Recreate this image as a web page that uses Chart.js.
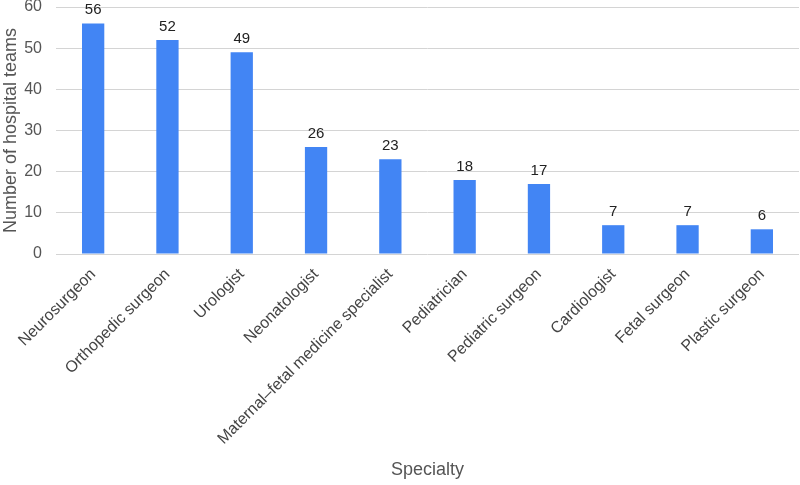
<!DOCTYPE html>
<html>
<head>
<meta charset="utf-8">
<script src="https://cdn.jsdelivr.net/npm/chart.js@4"></script>
<style>
  html, body { margin: 0; padding: 0; background: #fff; }
  #wrap { width: 800px; height: 485px; }
</style>
</head>
<body>
<div id="wrap"><canvas id="chart" width="800" height="485"></canvas></div>
<script>
const specialties = [
  'Neurosurgeon',
  'Orthopedic surgeon',
  'Urologist',
  'Neonatologist',
  'Maternal\u2013fetal medicine specialist',
  'Pediatrician',
  'Pediatric surgeon',
  'Cardiologist',
  'Fetal surgeon',
  'Plastic surgeon'
]
const teams = [56, 52, 49, 26, 23, 18, 17, 7, 7, 6]
const yTicks = [0, 10, 20, 30, 40, 50, 60]

const fontFamily = '"Liberation Sans", Arial, sans-serif'

// values drawn above each bar
const barLabels = {
  id: 'barLabels',
  afterDatasetsDraw(chart) {
    const ctx = chart.ctx
    const meta = chart.getDatasetMeta(0)
    ctx.save()
    ctx.font = '15px ' + fontFamily
    ctx.fillStyle = '#222'
    ctx.textAlign = 'center'
    ctx.textBaseline = 'alphabetic'
    meta.data.forEach((bar, i) => {
      ctx.fillText(teams[i], bar.x, bar.y - 9)
    })
    ctx.restore()
  }
}

const ctx = document.getElementById('chart')
new Chart(ctx, {
  type: 'bar',
  data: {
    labels: specialties,
    datasets: [{
      data: teams,
      backgroundColor: '#4285F4',
      borderWidth: 0,
      barPercentage: 0.3,
      categoryPercentage: 1
    }]
  },
  options: {
    responsive: false,
    animation: false,
    layout: { padding: { top: 7, right: 1, left: 0, bottom: 0 } },
    plugins: {
      legend: { display: false },
      tooltip: { enabled: false }
    },
    scales: {
      x: {
        grid: { display: false },
        border: { display: false },
        ticks: {
          minRotation: 45,
          maxRotation: 45,
          autoSkip: false,
          color: '#444',
          padding: 3,
          font: { family: fontFamily, size: 16 }
        },
        title: {
          display: true,
          text: 'Specialty',
          color: '#555',
          padding: { top: 0, bottom: 4 },
          font: { family: fontFamily, size: 18 }
        },
        afterFit(scale) {
          scale.height = 231
          scale.paddingLeft = 0
          scale.paddingRight = 0
        }
      },
      y: {
        min: 0,
        max: 60,
        afterBuildTicks(scale) { scale.ticks = yTicks.map(v => ({ value: v })) },
        grid: { color: '#d4d4d4', lineWidth: 1, drawTicks: false },
        border: { display: false },
        ticks: {
          color: '#555',
          padding: 14,
          font: { family: fontFamily, size: 16 }
        },
        title: {
          display: true,
          text: 'Number of hospital teams',
          color: '#555',
          padding: { top: 0, bottom: 0 },
          font: { family: fontFamily, size: 18 }
        },
        afterFit(scale) {
          scale.width = 56
          scale.paddingTop = 0
          scale.paddingBottom = 0
        }
      }
    }
  },
  plugins: [barLabels]
})
</script>
</body>
</html>
